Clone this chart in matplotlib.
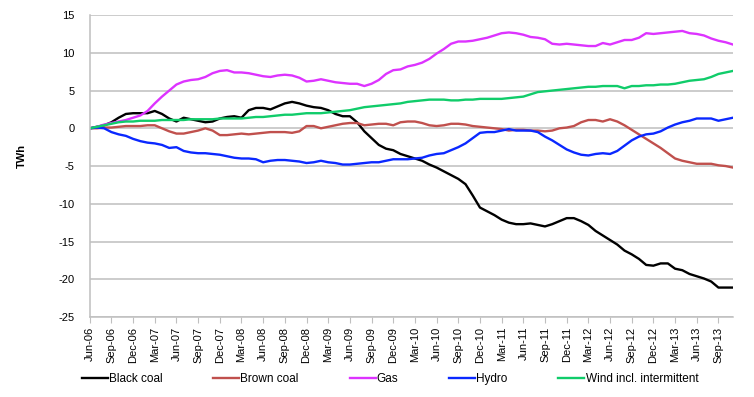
import numpy as np
import matplotlib
matplotlib.use("Agg")
import matplotlib.pyplot as plt

# monthly cumulative change since Jun-06 (TWh)
months = ['Jun', 'Jul', 'Aug', 'Sep', 'Oct', 'Nov', 'Dec', 'Jan', 'Feb', 'Mar', 'Apr', 'May']
n_months = 90

black_coal = [0, 0.2, 0.4, 0.8, 1.4, 1.9, 2.0, 2.0, 2.0, 2.3, 1.9, 1.3, 0.9, 1.4, 1.2, 1.0, 0.8, 0.9,
              1.3, 1.5, 1.6, 1.4, 2.4, 2.7, 2.7, 2.5, 2.9, 3.3, 3.5, 3.3, 3.0, 2.8, 2.7, 2.4, 1.9, 1.6,
              1.6, 0.8, -0.4, -1.3, -2.2, -2.7, -2.9, -3.4, -3.7, -4.0, -4.3, -4.8, -5.2, -5.7, -6.2,
              -6.7, -7.4, -8.9, -10.5, -11.0, -11.5, -12.1, -12.5, -12.7, -12.7, -12.6, -12.8, -13.0,
              -12.7, -12.3, -11.9, -11.9, -12.3, -12.8, -13.6, -14.2, -14.8, -15.4, -16.2, -16.7,
              -17.3, -18.1, -18.2, -17.9, -17.9, -18.6, -18.8, -19.3, -19.6, -19.9, -20.3, -21.1,
              -21.1, -21.1]
brown_coal = [0, 0, 0.1, 0.1, 0.2, 0.3, 0.3, 0.3, 0.4, 0.4, 0.0, -0.4, -0.7, -0.7, -0.5, -0.3, 0.0,
              -0.3, -0.9, -0.9, -0.8, -0.7, -0.8, -0.7, -0.6, -0.5, -0.5, -0.5, -0.6, -0.4, 0.3, 0.3,
              0.0, 0.2, 0.4, 0.6, 0.7, 0.7, 0.4, 0.5, 0.6, 0.6, 0.4, 0.8, 0.9, 0.9, 0.7, 0.4, 0.3, 0.4,
              0.6, 0.6, 0.5, 0.3, 0.2, 0.1, 0.0, -0.1, -0.3, -0.2, -0.2, -0.3, -0.3, -0.4, -0.3, 0.0,
              0.1, 0.3, 0.8, 1.1, 1.1, 0.9, 1.2, 0.9, 0.4, -0.2, -0.8, -1.4, -2.0, -2.6, -3.3, -4.0,
              -4.3, -4.5, -4.7, -4.7, -4.7, -4.9, -5.0, -5.2]
gas = [0, 0.2, 0.5, 0.7, 0.9, 1.1, 1.4, 1.7, 2.3, 3.3, 4.2, 5.0, 5.8, 6.2, 6.4, 6.5, 6.8, 7.3, 7.6,
       7.7, 7.4, 7.4, 7.3, 7.1, 6.9, 6.8, 7.0, 7.1, 7.0, 6.7, 6.2, 6.3, 6.5, 6.3, 6.1, 6.0, 5.9, 5.9,
       5.6, 5.9, 6.4, 7.2, 7.7, 7.8, 8.2, 8.4, 8.7, 9.2, 9.9, 10.5, 11.2, 11.5, 11.5, 11.6, 11.8,
       12.0, 12.3, 12.6, 12.7, 12.6, 12.4, 12.1, 12.0, 11.8, 11.2, 11.1, 11.2, 11.1, 11.0, 10.9,
       10.9, 11.3, 11.1, 11.4, 11.7, 11.7, 12.0, 12.6, 12.5, 12.6, 12.7, 12.8, 12.9, 12.6, 12.5,
       12.3, 11.9, 11.6, 11.4, 11.1]
hydro = [0, 0.1, 0.0, -0.5, -0.8, -1.0, -1.4, -1.7, -1.9, -2.0, -2.2, -2.6, -2.5, -3.0, -3.2, -3.3,
         -3.3, -3.4, -3.5, -3.7, -3.9, -4.0, -4.0, -4.1, -4.5, -4.3, -4.2, -4.2, -4.3, -4.4, -4.6,
         -4.5, -4.3, -4.5, -4.6, -4.8, -4.8, -4.7, -4.6, -4.5, -4.5, -4.3, -4.1, -4.1, -4.1, -4.0,
         -3.9, -3.6, -3.4, -3.3, -2.9, -2.5, -2.0, -1.3, -0.6, -0.5, -0.5, -0.3, -0.1, -0.3, -0.3,
         -0.3, -0.5, -1.1, -1.6, -2.2, -2.8, -3.2, -3.5, -3.6, -3.4, -3.3, -3.4, -3.0, -2.3, -1.6,
         -1.1, -0.8, -0.7, -0.4, 0.1, 0.5, 0.8, 1.0, 1.3, 1.3, 1.3, 1.0, 1.2, 1.4]
wind = [0, 0.2, 0.4, 0.6, 0.8, 0.9, 0.9, 1.0, 1.0, 1.0, 1.1, 1.1, 1.1, 1.1, 1.2, 1.2, 1.2, 1.2, 1.3,
        1.3, 1.3, 1.3, 1.4, 1.5, 1.5, 1.6, 1.7, 1.8, 1.8, 1.9, 2.0, 2.0, 2.0, 2.1, 2.2, 2.3, 2.4, 2.6,
        2.8, 2.9, 3.0, 3.1, 3.2, 3.3, 3.5, 3.6, 3.7, 3.8, 3.8, 3.8, 3.7, 3.7, 3.8, 3.8, 3.9, 3.9, 3.9,
        3.9, 4.0, 4.1, 4.2, 4.5, 4.8, 4.9, 5.0, 5.1, 5.2, 5.3, 5.4, 5.5, 5.5, 5.6, 5.6, 5.6, 5.3, 5.6,
        5.6, 5.7, 5.7, 5.8, 5.8, 5.9, 6.1, 6.3, 6.4, 6.5, 6.8, 7.2, 7.4, 7.6]

names = ['Black coal', 'Brown coal', 'Gas', 'Hydro', 'Wind incl. intermittent']
colors = ['#000000', '#C0504D', '#DD33FF', '#0A28FF', '#10CC6A']

x = np.arange(n_months)
tick_pos = np.arange(0, n_months, 3)
tick_labels = ['%s-%02d' % (months[i % 12], (6 + (i + 5) // 12) % 100) for i in tick_pos]

plt.rcParams['font.family'] = ['Liberation Sans', 'DejaVu Sans']
plt.rcParams['axes.unicode_minus'] = False

fig = plt.figure(figsize=(7.54, 3.97), dpi=100)
ax = fig.add_axes([0.119, 0.2015, 0.853, 0.7605])

for series, name, c in zip([black_coal, brown_coal, gas, hydro, wind], names, colors):
    ax.plot(x, series, color=c, lw=1.7, label=name, solid_joinstyle='round')

ax.set_xlim(0, n_months - 1)
ax.set_ylim(-25, 15)
ax.set_yticks(np.arange(-25, 16, 5))
ax.set_xticks(tick_pos)
ax.set_xticklabels(tick_labels, rotation=90, fontsize=8)
ax.tick_params(axis='y', labelsize=8, length=0, pad=11)
ax.tick_params(axis='x', length=4, color='#BFBFBF', pad=3)
ax.grid(axis='y', color='#BFBFBF', lw=1.1)
ax.set_axisbelow(True)
for s in ['top', 'right']:
    ax.spines[s].set_visible(False)
ax.spines['left'].set_color('#BFBFBF')
ax.spines['bottom'].set_color('#BFBFBF')
ax.spines['left'].set_linewidth(1.1)
ax.spines['bottom'].set_linewidth(1.1)

fig.text(22 / 754, 1 - 156 / 397, 'TWh', rotation=90, fontsize=8, fontweight='bold',
         ha='center', va='center')

fig.legend(loc='center left', bbox_to_anchor=(77 / 754, 1 - 379 / 397), ncol=5, frameon=False,
           fontsize=8.5, handlelength=2.2, handletextpad=0.1, columnspacing=4.3, borderaxespad=0)

fig.savefig('out.png', dpi=100)
